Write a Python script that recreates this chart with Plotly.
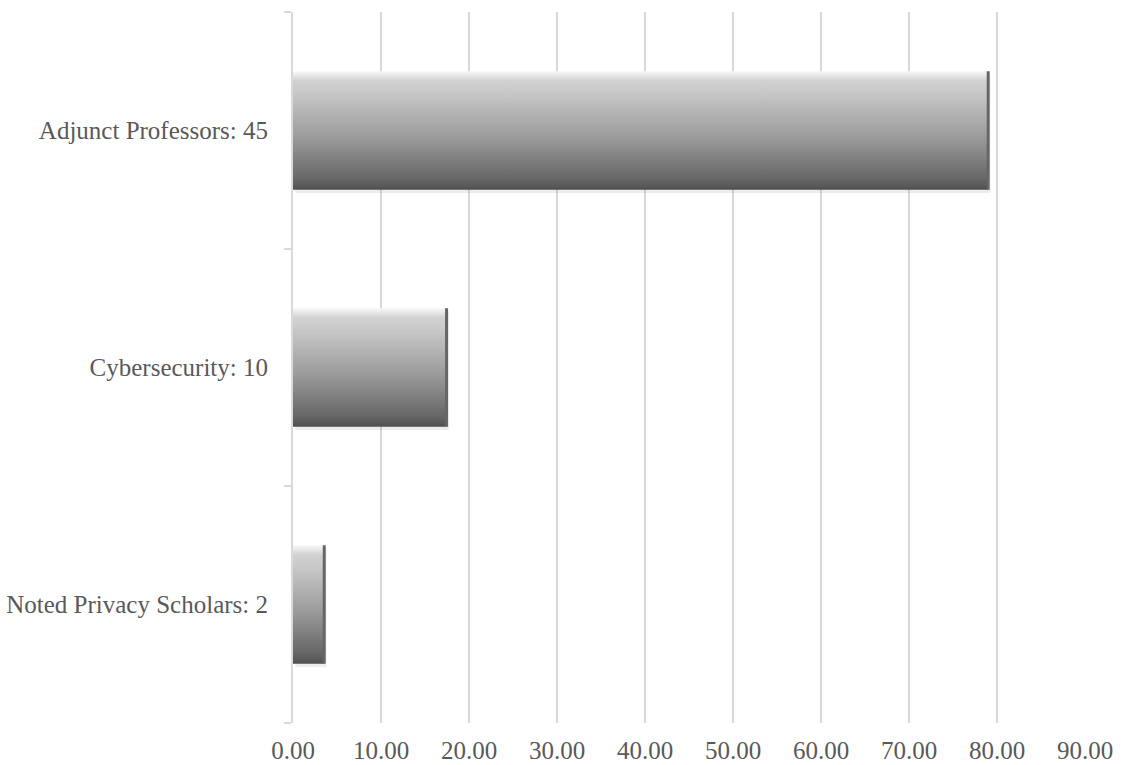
import plotly.graph_objects as go

categories = ["Adjunct Professors: 45", "Cybersecurity: 10", "Noted Privacy Scholars: 2"]
values = [79.0, 17.45, 3.55]
x_ticks = [0, 10, 20, 30, 40, 50, 60, 70, 80, 90]

FONT = "Liberation Serif"
TXT = "#595959"
GRID = "#d9d9d9"
FS = 25

n = len(categories)
ypos = [n - 1 - i for i in range(n)]
half = 0.25

bar_scale = [
    [0.0, "#4e4e4e"],
    [0.035, "#5a5a5a"],
    [0.10, "#686868"],
    [0.45, "#9c9c9c"],
    [0.80, "#c6c6c6"],
    [0.92, "#d2d2d2"],
    [0.965, "#e8e8e8"],
    [1.0, "#f8f8f8"],
]

fig = go.Figure()
for cat, v, p in zip(categories, values, ypos):
    # soft shadow
    sx, sy = 0.25, -0.014
    fig.add_trace(go.Scatter(
        x=[0 + sx, v + sx, v + sx, 0 + sx, 0 + sx],
        y=[p - half + sy, p - half + sy, p + half + sy, p + half + sy, p - half + sy],
        fill="toself", fillcolor="rgba(0,0,0,0.07)", mode="lines",
        line=dict(width=0), hoverinfo="skip", showlegend=False))
    # gradient bar
    fig.add_trace(go.Scatter(
        x=[0, v, v, 0, 0],
        y=[p - half, p - half, p + half, p + half, p - half],
        fill="toself", mode="lines", line=dict(width=0),
        fillgradient=dict(type="vertical", colorscale=bar_scale),
        name=cat, showlegend=False, hoverinfo="skip"))
    # right bevel edge
    fig.add_trace(go.Scatter(
        x=[v, v], y=[p - half, p + half], mode="lines",
        line=dict(color="#666666", width=3), hoverinfo="skip", showlegend=False))

fig.update_layout(
    width=1122, height=765,
    margin=dict(l=293, r=37, t=12, b=42),
    paper_bgcolor="white", plot_bgcolor="white",
    showlegend=False, hovermode=False,
    font=dict(family=FONT, color=TXT, size=FS),
    xaxis=dict(
        range=[0, 90], tickvals=x_ticks, tickformat=".2f",
        showgrid=True, gridcolor=GRID, gridwidth=1.5,
        zeroline=False, showline=False, ticks="",
        tickfont=dict(family=FONT, size=FS, color=TXT),
        ticklabelstandoff=10, automargin=False,
    ),
    yaxis=dict(
        range=[-0.5, n - 0.5], tickvals=ypos, ticktext=categories,
        showgrid=False, zeroline=False,
        showline=True, linecolor=GRID, linewidth=2,
        ticks="",
        minor=dict(tick0=-0.5, dtick=1, ticks="outside", ticklen=7,
                   tickcolor=GRID, tickwidth=2, showgrid=False),
        tickfont=dict(family=FONT, size=FS, color=TXT),
        ticklabelstandoff=18, automargin=False,
    ),
)

fig.write_html("out.html")
